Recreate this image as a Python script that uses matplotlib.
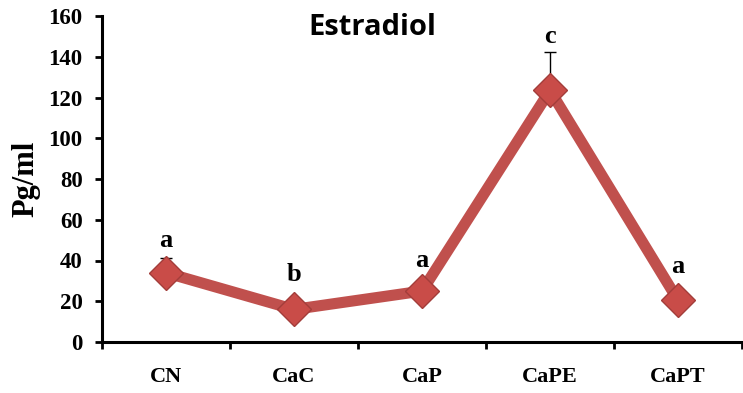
import numpy as np
import matplotlib
matplotlib.use('Agg')
import matplotlib.pyplot as plt

# data
groups = ['CN', 'CaC', 'CaP', 'CaPE', 'CaPT']
estradiol = [34, 16, 25, 123.5, 20.5]
err_up = [7, 0, 0, 19, 0]
letters = ['a', 'b', 'a', 'c', 'a']
letter_y = [50, 33, 40, 150, 37]

serif = 'Liberation Serif'
red = '#C0504D'

fig = plt.figure(figsize=(7.43, 3.93), dpi=100)
ax = fig.add_axes([102 / 743, 51 / 393, 640 / 743, 326 / 393])

x = np.arange(len(groups))
ax.errorbar(x, estradiol, yerr=[np.zeros(len(x)), err_up], fmt='none',
            ecolor='black', elinewidth=1, capsize=4, capthick=1, zorder=1)
ax.plot(x, estradiol, color=red, lw=8, solid_capstyle='butt', zorder=2)
ax.plot(x, estradiol, ls='none', marker='D', ms=17, mfc='#C94C48',
        mec='#A33D3A', mew=1, zorder=3)

for xi, lab, ly in zip(x, letters, letter_y):
    ax.text(xi, ly, lab, ha='center', va='center', fontsize=19,
            fontweight='bold', family=serif)

ax.text(0.423, 0.965, 'Estradiol', transform=ax.transAxes, ha='center',
        va='center', fontsize=21, fontweight='bold', family='Open Sans')

ax.set_xlim(-0.5, 4.5)
ax.set_ylim(0, 160)
ax.set_yticks(np.arange(0, 161, 20))
ax.set_xticks(x)
ax.set_xticklabels(groups)
ax.set_xticks(np.arange(-0.5, 4.6, 1), minor=True)

for s in ['top', 'right']:
    ax.spines[s].set_visible(False)
for s in ['left', 'bottom']:
    ax.spines[s].set_linewidth(2.2)

ax.tick_params(axis='y', direction='out', length=5, width=2, pad=9)
ax.tick_params(axis='x', which='major', length=0, pad=18)
ax.tick_params(axis='x', which='minor', direction='out', length=5, width=2)
for lab in ax.get_yticklabels():
    lab.set_fontfamily(serif)
    lab.set_fontweight('bold')
    lab.set_fontsize(16.5)
for lab in ax.get_xticklabels():
    lab.set_fontfamily(serif)
    lab.set_fontweight('bold')
    lab.set_fontsize(16)

ax.set_ylabel('Pg/ml', family=serif, fontweight='bold', fontsize=22, labelpad=6)

fig.savefig('out.png', dpi=100)
